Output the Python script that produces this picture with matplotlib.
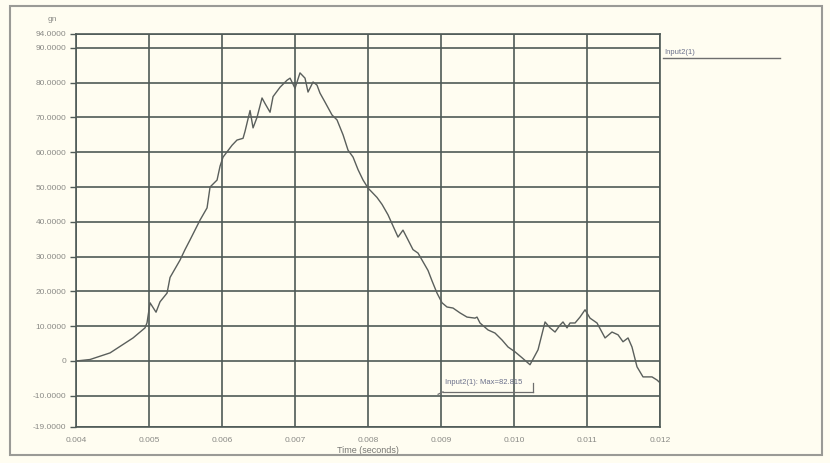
import numpy as np
import matplotlib
matplotlib.use('Agg')
import matplotlib.pyplot as plt
from matplotlib.patches import Rectangle

# acceleration trace, channel Input2(1)
time_s = [0.004014, 0.004192, 0.004466, 0.004781, 0.004945, 0.004973, 0.005014, 0.005096,
          0.005151, 0.005247, 0.005288, 0.005425, 0.005493, 0.005562, 0.005699, 0.005795,
          0.005836, 0.005932, 0.005973, 0.006014, 0.006137, 0.006205, 0.006288, 0.006315,
          0.006384, 0.006425, 0.006479, 0.006548, 0.006589, 0.006658, 0.006699, 0.006795,
          0.006890, 0.006932, 0.007000, 0.007068, 0.007137, 0.007178, 0.007247, 0.007301,
          0.007342, 0.007411, 0.007507, 0.007575, 0.007658, 0.007726, 0.007795, 0.007863,
          0.007932, 0.008000, 0.008123, 0.008192, 0.008274, 0.008411, 0.008479, 0.008548,
          0.008616, 0.008685, 0.008822, 0.008877, 0.008945, 0.009014, 0.009082, 0.009164,
          0.009260, 0.009356, 0.009466, 0.009493, 0.009534, 0.009644, 0.009740, 0.009836,
          0.009918, 0.010014, 0.010110, 0.010219, 0.010329, 0.010425, 0.010493, 0.010562,
          0.010630, 0.010671, 0.010726, 0.010767, 0.010836, 0.010904, 0.010973, 0.011041,
          0.011137, 0.011247, 0.011342, 0.011425, 0.011493, 0.011562, 0.011616, 0.011685,
          0.011767, 0.011890, 0.011959, 0.012000]
accel_g = [0.0, 0.4, 2.3, 6.6, 9.5, 11.0, 16.7, 14.0,
           17.0, 19.5, 24.0, 29.0, 32.0, 34.8, 40.5, 44.0,
           50.0, 52.0, 56.0, 58.6, 62.0, 63.5, 64.0, 66.0,
           72.0, 67.0, 70.0, 75.6, 74.0, 71.5, 76.0, 78.7,
           80.7, 81.3, 78.4, 82.815, 81.3, 77.3, 80.2, 79.3,
           77.0, 74.4, 70.7, 69.3, 65.0, 60.6, 58.6, 55.0,
           52.0, 49.7, 47.0, 45.0, 42.0, 35.6, 37.6, 34.8,
           32.0, 31.0, 26.0, 23.0, 19.5, 16.7, 15.5, 15.2,
           13.8, 12.6, 12.3, 12.6, 10.9, 8.9, 8.0, 6.0,
           4.0, 2.6, 0.9, -1.1, 3.2, 11.2, 9.5, 8.3,
           10.3, 11.2, 9.5, 10.9, 10.9, 12.6, 14.7, 12.3,
           10.9, 6.6, 8.3, 7.5, 5.5, 6.6, 4.0, -1.7,
           -4.6, -4.6, -5.5, -6.3]

x_ticks = [0.004, 0.005, 0.006, 0.007, 0.008, 0.009, 0.010, 0.011, 0.012]
x_labels = ['0.004', '0.005', '0.006', '0.007', '0.008', '0.009', '0.010', '0.011', '0.012']
y_ticks = [-19, -10, 0, 10, 20, 30, 40, 50, 60, 70, 80, 90, 94]
y_labels = ['-19.0000', '-10.0000', '0', '10.0000', '20.0000', '30.0000', '40.0000',
            '50.0000', '60.0000', '70.0000', '80.0000', '90.0000', '94.0000']
peak_value = 82.815

bg = '#fffdf1'
grid_c = '#4f5a57'
txt_c = '#8a8a86'

plt.rcParams['font.family'] = ['Liberation Sans', 'DejaVu Sans']
fig = plt.figure(figsize=(8.3, 4.63), dpi=100, facecolor=bg)
ax = fig.add_axes([0.0916, 0.0778, 0.7036, 0.8488])
ax.set_facecolor(bg)

ax.plot(time_s, accel_g, color='#5a5f5c', linewidth=1.0)

ax.set_xlim(0.004, 0.012)
ax.set_ylim(-19, 94)
ax.set_xticks(x_ticks)
ax.set_xticklabels(x_labels)
ax.set_yticks(y_ticks)
ax.set_yticklabels(y_labels)
ax.grid(True, color=grid_c, linewidth=1.2)
ax.tick_params(axis='y', length=4, width=1, color=grid_c, labelsize=6, labelcolor=txt_c, pad=3)
ax.tick_params(axis='x', length=0, labelsize=6, labelcolor=txt_c, pad=7)
for s in ax.spines.values():
    s.set_color(grid_c)
    s.set_linewidth(1.2)

ax.set_xlabel('Time (seconds)', fontsize=6.5, color='#777773', labelpad=2)
fig.text(0.063, 0.955, 'gn', fontsize=6, color=txt_c, ha='center')

# legend line on the right
ax.text(1.008, 0.945, 'Input2(1)', transform=ax.transAxes, fontsize=5.5,
        color='#6a6f8a', va='bottom', clip_on=False)
ax.plot([1.005, 1.205], [0.939, 0.939], transform=ax.transAxes, color='#6e6e6e',
        linewidth=1.0, clip_on=False)

# max marker label
ax.text(0.00905, -7.2, 'Input2(1): Max=%.3f' % peak_value, fontsize=5.5, color='#6a6f8a',
        va='bottom')
ax.plot([0.009027, 0.010260], [-8.9, -8.9], color='#6e6e6e', linewidth=0.9)
ax.plot([0.010260, 0.010260], [-8.9, -6.3], color='#6e6e6e', linewidth=0.9)
ax.plot([0.009027, 0.008960], [-8.9, -9.6], color='#6e6e6e', linewidth=0.9)

# outer frame
fig.patches.append(Rectangle((0.012, 0.017), 0.978, 0.97, transform=fig.transFigure,
                             fill=False, edgecolor='#9a9a96', linewidth=1.5))

fig.savefig('out.png', dpi=100, facecolor=bg)
